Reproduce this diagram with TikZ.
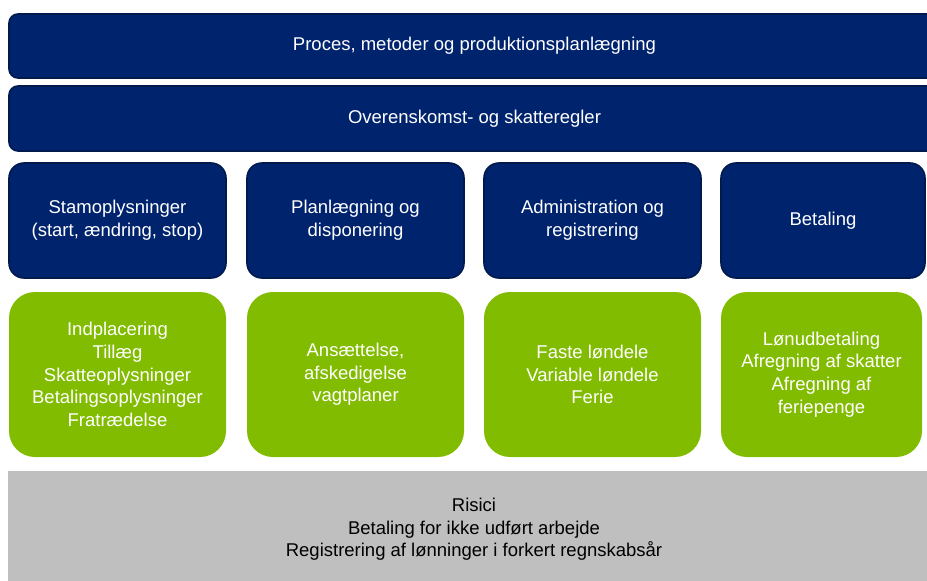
\documentclass[tikz,border=0pt]{standalone}
\usepackage{fontspec}
\setmainfont{Liberation Sans}
\definecolor{navy}{HTML}{00236E}
\definecolor{navyedge}{HTML}{001A4E}
\definecolor{leaf}{HTML}{82BC00}
\definecolor{risk}{HTML}{BFBFBF}
\begin{document}
\begin{tikzpicture}[x=1pt,y=-1pt,
  txt/.style={font=\fontsize{18.5}{22.7}\selectfont, align=center, inner sep=0pt},
  bar/.style={txt, draw=navyedge, line width=1.6pt, fill=navy, text=white, rounded corners=9pt, minimum width=931pt},
  area/.style={txt, draw=navyedge, line width=1.6pt, fill=navy, text=white, rounded corners=15pt, minimum width=217pt, minimum height=115pt},
  task/.style={txt, fill=leaf, text=white, rounded corners=26pt, minimum width=217pt, minimum height=165pt},
  risks/.style={txt, fill=risk, text=black, minimum width=932pt, minimum height=117pt}]
\clip (0,0) rectangle (927,581);
\node[bar, minimum height=64pt] (proces) at (474.5,46) {Proces, metoder og produktionsplanlægning};
\node[bar, minimum height=65pt] (regler) at (474.5,118.5) {Overenskomst- og skatteregler};
\node[area] (stam) at (117.5,220.5) {Stamoplysninger\\(start, ændring, stop)};
\node[area] (plan) at (355.5,220.5) {Planlægning og\\disponering};
\node[area] (admin) at (592.5,220.5) {Administration og\\registrering};
\node[area, minimum width=204pt] (betal) at (823,220.5) {Betaling};
\node[task] (indpl) at (117.5,374.5) {Indplacering\\Tillæg\\Skatteoplysninger\\Betalingsoplysninger\\Fratrædelse};
\node[task] (ansat) at (355.5,374.5) {Ansættelse,\\afskedigelse\\vagtplaner};
\node[task] (faste) at (592.5,374.5) {Faste løndele\\Variable løndele\\Ferie};
\node[task, minimum width=201pt] (udbet) at (821.5,374.5) {Lønudbetaling\\Afregning af skatter\\Afregning af\\feriepenge};
\node[risks] (risici) at (474,529.5) {Risici\\Betaling for ikke udført arbejde\\Registrering af lønninger i forkert regnskabsår};
\end{tikzpicture}
\end{document}
